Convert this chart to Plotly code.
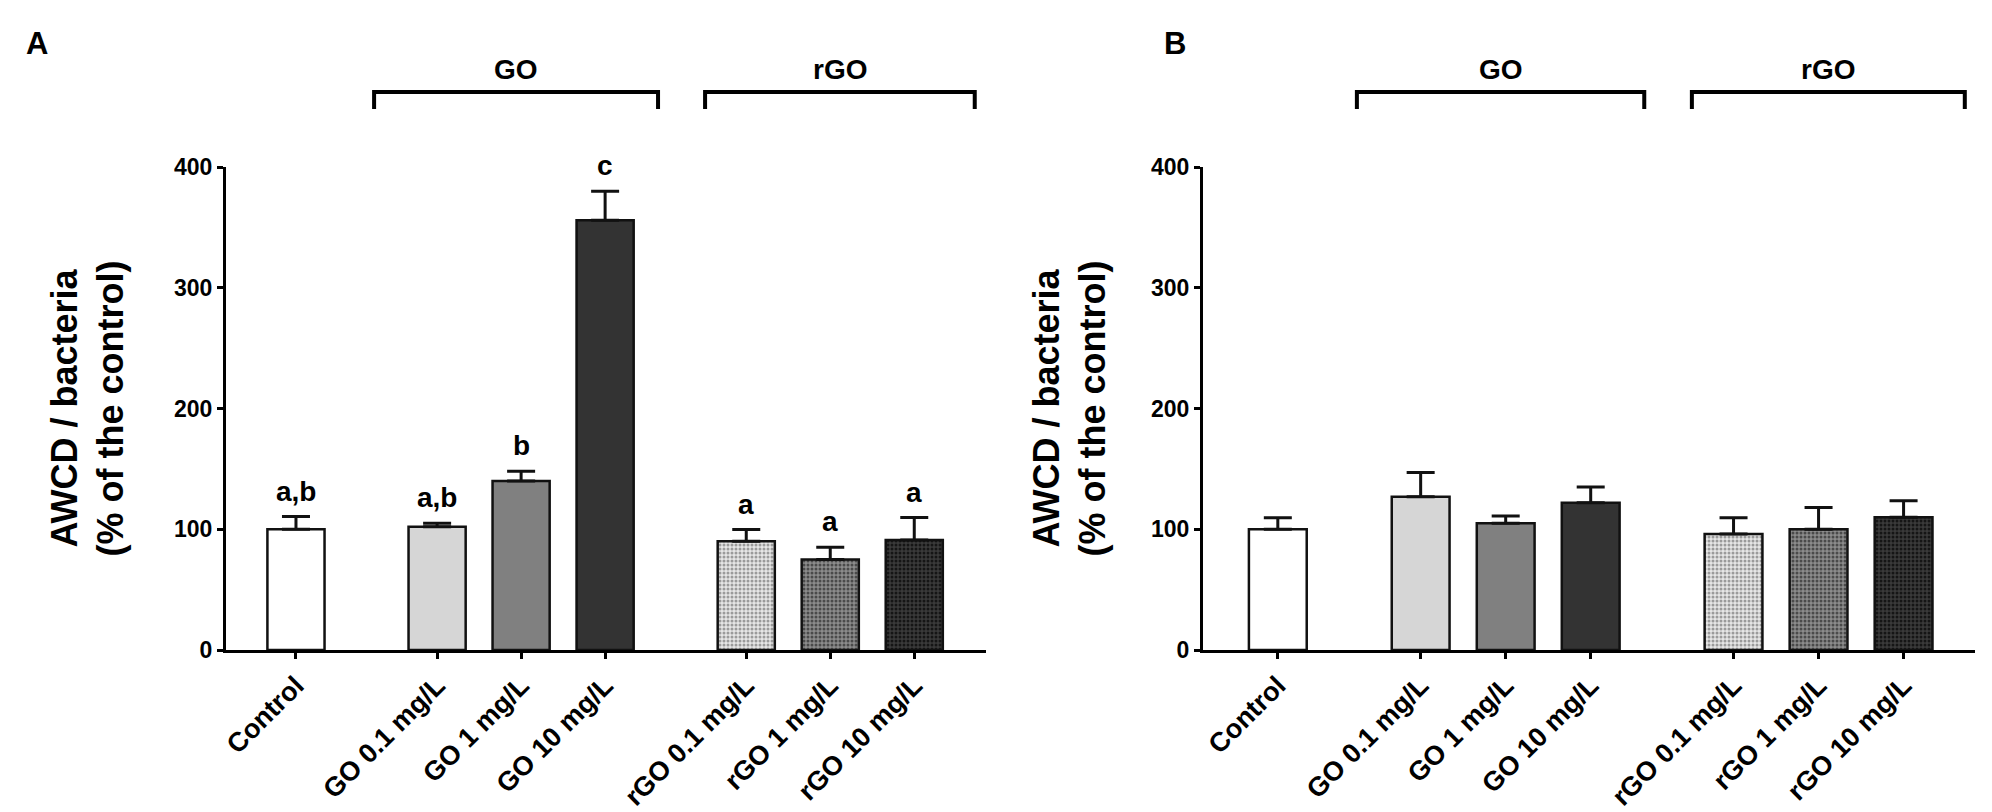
import plotly.graph_objects as go

# ---- data ----
labels = ["Control",
          "GO 0.1 mg/L", "GO 1 mg/L", "GO 10 mg/L",
          "rGO 0.1 mg/L", "rGO 1 mg/L", "rGO 10 mg/L"]
group_sizes = [1, 3, 3]
group_names = ["GO", "rGO"]

a_mean = [100, 102, 140, 356, 90, 75, 91]
a_err = [10.5, 3, 8, 24, 9.7, 10, 18.7]
a_letters = ["a,b", "a,b", "b", "c", "a", "a", "a"]

b_mean = [100, 127, 105, 122, 96, 100, 110]
b_err = [9.5, 20, 6, 13, 13.5, 18, 13.5]

# ---- styling ----
W, H = 1992, 812
FONT = "Arial, Liberation Sans, sans-serif"
fills = ["#ffffff", "#d6d6d6", "#808080", "#333333", "#e6e6e6", "#8c8c8c", "#3a3a3a"]
dots = [None, None, None, None, "#9a9a9a", "#4a4a4a", "#151515"]
GAP = 0.68

# bar positions: groups separated by an extra gap
pos = []
x = 0.0
for n in group_sizes:
    for _ in range(n):
        pos.append(x)
        x += 1
    x += GAP


def px_x(p):
    return p / W


def px_y(p):
    return 1 - p / H


y_dom = [px_y(650), px_y(167)]
panels = [
    dict(name="A", mean=a_mean, err=a_err, letters=a_letters,
         dom=[px_x(226), px_x(986)], rng=[-0.833, 8.214],
         title_x=88, letter_x=37),
    dict(name="B", mean=b_mean, err=b_err, letters=None,
         dom=[px_x(1203), px_x(1975)], rng=[-0.88, 8.2],
         title_x=1070, letter_x=1175),
]

fig = go.Figure()
annotations = []
shapes = []

for i, pn in enumerate(panels):
    xa = "x" if i == 0 else "x2"
    ya = "y" if i == 0 else "y2"
    for j in range(len(labels)):
        marker = dict(color=fills[j], line=dict(color="#111111", width=2.5))
        if dots[j]:
            marker["pattern"] = dict(shape=".", bgcolor=fills[j], fgcolor=dots[j],
                                     size=4, solidity=0.45, fillmode="replace")
        fig.add_trace(go.Bar(
            x=[pos[j]], y=[pn["mean"][j]], width=0.68,
            marker=marker,
            error_y=dict(type="data", symmetric=False, array=[pn["err"][j]],
                         arrayminus=[0], color="#111111", thickness=3, width=14),
            xaxis=xa, yaxis=ya, showlegend=False, hoverinfo="skip",
        ))
        if pn["letters"]:
            annotations.append(dict(
                x=pos[j], y=pn["mean"][j] + pn["err"][j], xref=xa, yref=ya,
                text=pn["letters"][j], showarrow=False, yanchor="bottom", yshift=8,
                font=dict(family=FONT, size=28, color="black", weight="bold"),
            ))

    # y axis title
    annotations.append(dict(
        x=px_x(pn["title_x"]), y=(y_dom[0] + y_dom[1]) / 2, xref="paper", yref="paper",
        text="AWCD / bacteria<br>(% of the control)", textangle=-90, showarrow=False,
        xanchor="center", yanchor="middle",
        font=dict(family=FONT, size=36, color="black", weight="bold"),
    ))
    # panel letter
    annotations.append(dict(
        x=px_x(pn["letter_x"]), y=px_y(43), xref="paper", yref="paper",
        text=pn["name"], showarrow=False, xanchor="center", yanchor="middle",
        font=dict(family=FONT, size=31, color="black", weight="bold"),
    ))

    # group brackets
    start = group_sizes[0]
    pads = [(0.75, 0.63), (0.49, 0.72)]
    for g, n in enumerate(group_sizes[1:]):
        x0 = pos[start] - pads[g][0]
        x1 = pos[start + n - 1] + pads[g][1]
        yt, yb = px_y(92), px_y(109)
        shapes.append(dict(
            type="path", xref=xa, yref="paper",
            path=f"M {x0},{yb} L {x0},{yt} L {x1},{yt} L {x1},{yb}",
            line=dict(color="black", width=4),
        ))
        annotations.append(dict(
            x=(x0 + x1) / 2, y=px_y(69), xref=xa, yref="paper",
            text=group_names[g], showarrow=False, xanchor="center", yanchor="middle",
            font=dict(family=FONT, size=28, color="black", weight="bold"),
        ))
        start += n

axis_common = dict(showgrid=False, zeroline=False, showline=True, linecolor="black",
                   linewidth=3, ticks="outside", tickcolor="black", tickwidth=3,
                   automargin=False)
xfont = dict(family=FONT, size=27, color="black", weight="bold")
yfont = dict(family=FONT, size=23, color="black", weight="bold")

fig.update_layout(
    width=W, height=H,
    margin=dict(l=0, r=0, t=0, b=0),
    paper_bgcolor="white", plot_bgcolor="white",
    barmode="overlay",
    xaxis=dict(domain=panels[0]["dom"], range=panels[0]["rng"], tickvals=pos,
               ticktext=labels, tickangle=-45, ticklen=6, anchor="y",
               tickfont=xfont, **axis_common),
    xaxis2=dict(domain=panels[1]["dom"], range=panels[1]["rng"], tickvals=pos,
                ticktext=labels, tickangle=-45, ticklen=6, anchor="y2",
                tickfont=xfont, **axis_common),
    yaxis=dict(domain=y_dom, range=[0, 400], dtick=100, ticklen=6, anchor="x",
               tickfont=yfont, **axis_common),
    yaxis2=dict(domain=y_dom, range=[0, 400], dtick=100, ticklen=6, anchor="x2",
                tickfont=yfont, **axis_common),
    annotations=annotations,
    shapes=shapes,
)

fig.write_html("out.html", config={"displayModeBar": False},
               post_script="document.body.style.margin='0';document.body.style.overflow='hidden';")
